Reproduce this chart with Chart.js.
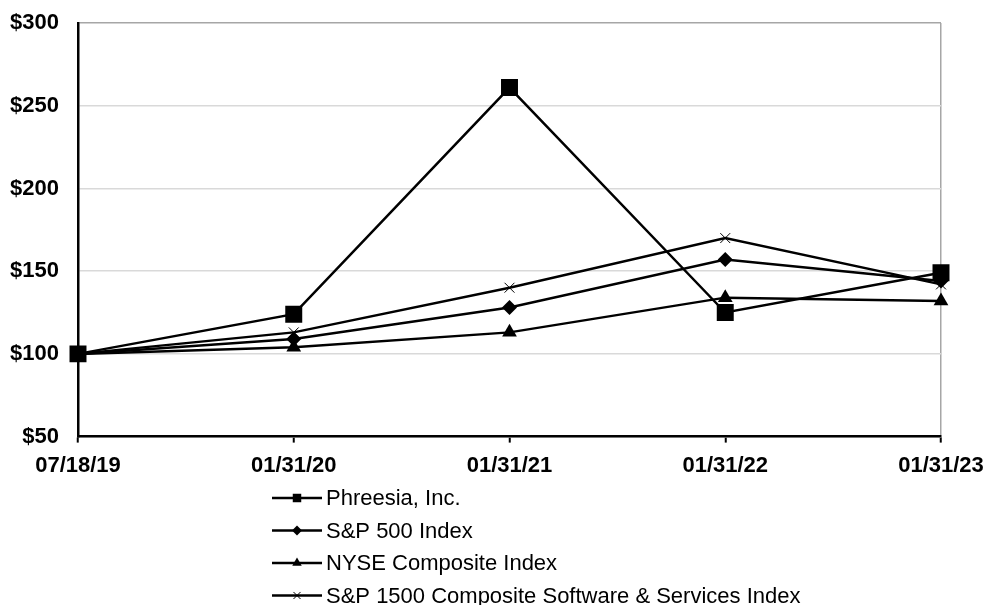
<!DOCTYPE html>
<html lang="en">
<head>
<meta charset="UTF-8">
<title>Cumulative Total Return</title>
<script src="https://cdn.jsdelivr.net/npm/chart.js"></script>
<style>
    body { margin: 0; background: #fff; overflow: hidden; }
    #wrap { width: 985px; height: 605px; position: relative; }
    canvas { display: block; }
</style>
</head>
<body>
<div id="wrap"><canvas id="chart"></canvas></div>
<script>
const dates = ['07/18/19', '01/31/20', '01/31/21', '01/31/22', '01/31/23'];
const phreesia = [100, 124, 261, 125, 149];
const sp500 = [100, 109, 128, 157, 144];
const nyse = [100, 104, 113, 134, 132];
const sp1500Software = [100, 113, 140, 170, 142];
const yTicks = [50, 100, 150, 200, 250, 300];

const FONT = '"Liberation Sans", Arial, sans-serif';

function series(label, data, style, radius, legendRadius) {
    return {
        label: label,
        data: data,
        borderColor: '#000',
        backgroundColor: '#000',
        borderWidth: 2.5,
        pointStyle: style,
        pointRadius: radius,
        pointHoverRadius: radius,
        pointBorderWidth: style === 'crossRot' ? 1 : 0,
        pointBorderColor: '#000',
        pointBackgroundColor: '#000',
        legendRadius: legendRadius,
        tension: 0
    };
}

// legend stacked under the plot, drawn with the dataset styles
const stackedLegend = {
    id: 'stackedLegend',
    afterDraw(chart) {
        const ctx = chart.ctx;
        ctx.save();
        chart.data.datasets.forEach((ds, i) => {
            const y = 498 + i * 32.5;
            ctx.strokeStyle = '#000';
            ctx.lineWidth = 2.5;
            ctx.beginPath();
            ctx.moveTo(272, y);
            ctx.lineTo(322, y);
            ctx.stroke();
            ctx.fillStyle = '#000';
            ctx.lineWidth = ds.pointStyle === 'crossRot' ? 1 : 0.01;
            Chart.helpers.drawPoint(ctx, { pointStyle: ds.pointStyle, radius: ds.legendRadius, rotation: 0, borderWidth: ctx.lineWidth }, 297, y);
            ctx.fillStyle = '#000';
            ctx.font = '22px ' + FONT;
            ctx.textAlign = 'left';
            ctx.textBaseline = 'middle';
            ctx.fillText(ds.label, 326, y + 1);
        });
        ctx.restore();
    }
};

new Chart(document.getElementById('chart'), {
    type: 'line',
    data: {
        labels: dates,
        datasets: [
            series('Phreesia, Inc.', phreesia, 'rect', 12, 6),
            series('S&P 500 Index', sp500, 'rectRot', 7.5, 5),
            series('NYSE Composite Index', nyse, 'triangle', 8.5, 5.5),
            series('S&P 1500 Composite Software & Services Index', sp1500Software, 'crossRot', 7, 5)
        ]
    },
    options: {
        responsive: true,
        maintainAspectRatio: false,
        animation: false,
        layout: { padding: { top: 23, right: 44, bottom: 116, left: 0 } },
        plugins: {
            legend: { display: false },
            tooltip: { enabled: false }
        },
        scales: {
            x: {
                afterFit(scale) { scale.paddingLeft = 0; scale.paddingRight = 0; },
                border: { color: '#000', width: 2.5 },
                grid: {
                    drawOnChartArea: true,
                    color: c => c.index === dates.length - 1 ? '#a6a6a6' : 'rgba(0,0,0,0)',
                    lineWidth: 1.5,
                    tickColor: '#000',
                    tickWidth: 2,
                    tickLength: 6
                },
                ticks: {
                    color: '#000',
                    padding: 10,
                    maxRotation: 0,
                    autoSkip: false,
                    font: { family: FONT, size: 22, weight: 'bold' }
                }
            },
            y: {
                min: yTicks[0],
                max: yTicks[yTicks.length - 1],
                afterFit(scale) { scale.width = 78; scale.paddingTop = 0; scale.paddingBottom = 0; },
                afterBuildTicks(scale) { scale.ticks = yTicks.map(v => ({ value: v })); },
                border: { color: '#000', width: 2.5 },
                grid: {
                    color: c => c.tick && c.tick.value === 300 ? '#a6a6a6' : '#d9d9d9',
                    lineWidth: 1.5,
                    drawTicks: false
                },
                ticks: {
                    color: '#000',
                    padding: 19,
                    font: { family: FONT, size: 22, weight: 'bold' },
                    callback: v => '$' + v
                }
            }
        }
    },
    plugins: [stackedLegend]
});
</script>
</body>
</html>
